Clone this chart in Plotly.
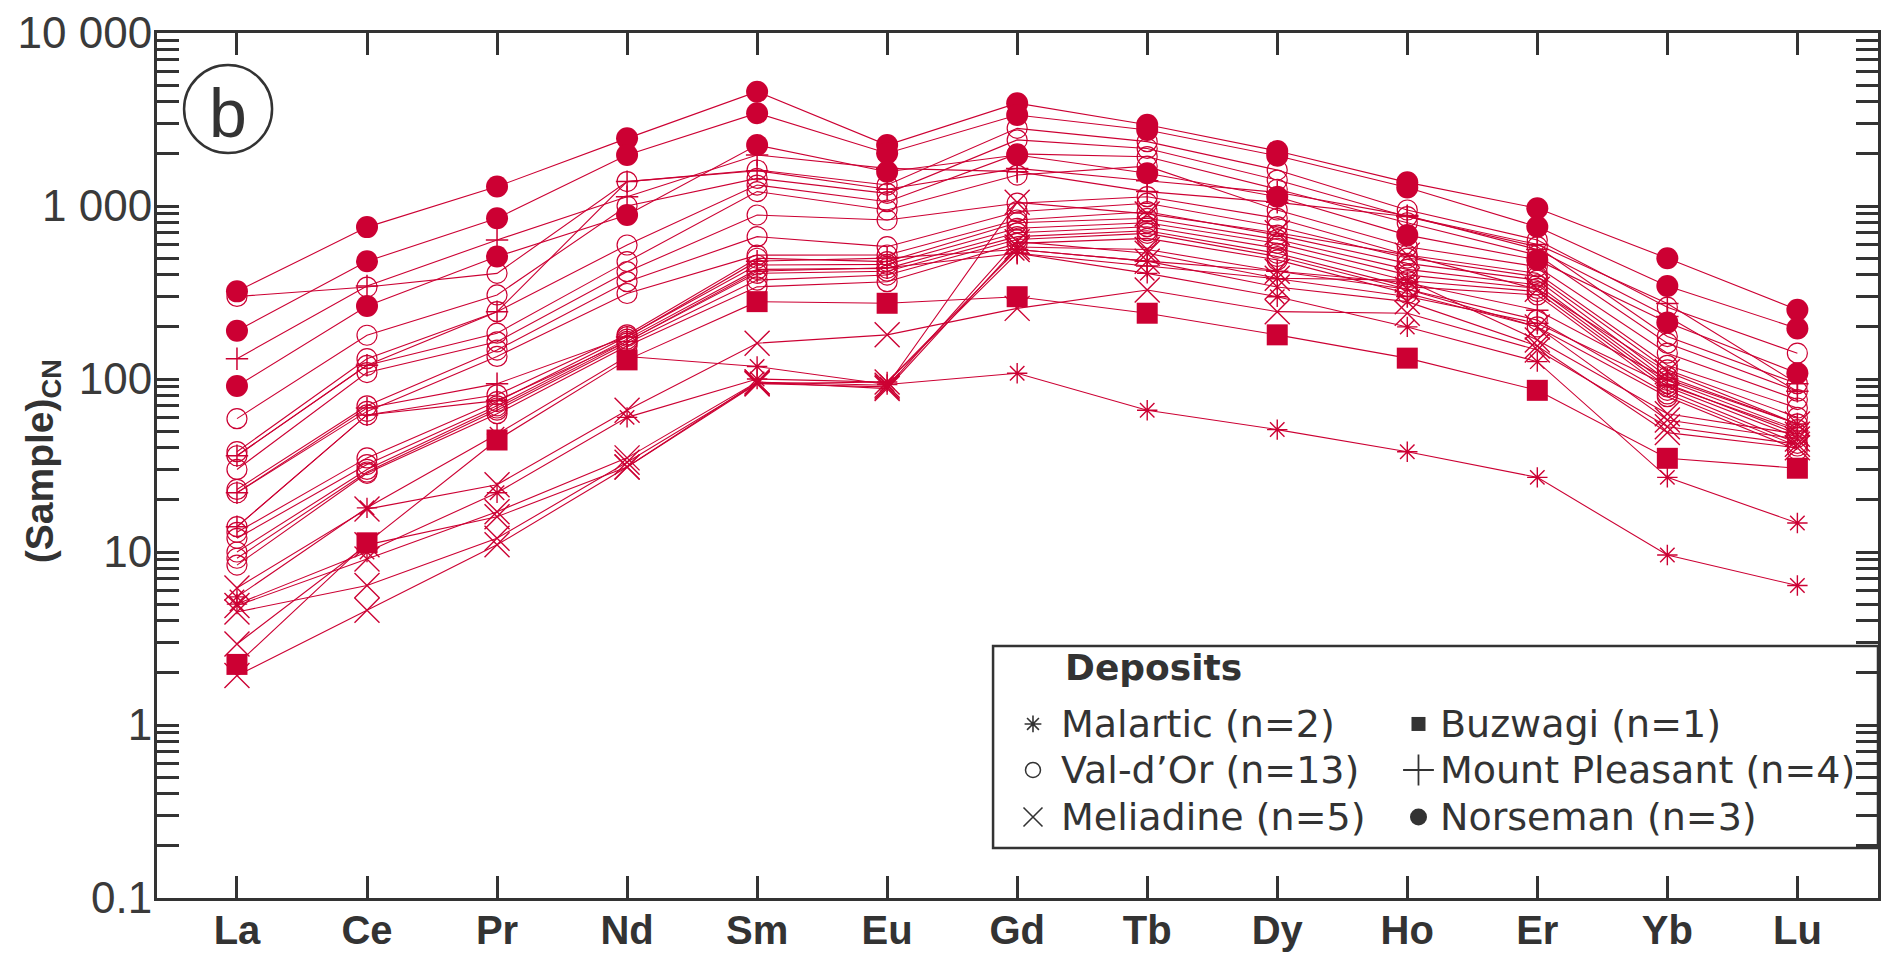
import plotly.graph_objects as go

elements = ["La", "Ce", "Pr", "Nd", "Sm", "Eu", "Gd", "Tb", "Dy", "Ho", "Er", "Yb", "Lu"]

malartic = [
    [5.5, 18, 48, 135, 118, 93, 108, 66, 51, 38, 27, 9.6, 6.4],
    [5.0, 10, 22, 60, 100, 96, 533, 408, 299, 200, 126, 27, 14.7],
]
valdor = [
    [300, 340, 408, 1384, 1615, 1322, 2810, 2355, 1615, 948, 636, 260, 141],
    [59, 179, 306, 1000, 1445, 1183, 2410, 2150, 1413, 867, 582, 176, 94],
    [38, 131, 245, 595, 1322, 1059, 2000, 1928, 1250, 800, 520, 161, 85],
    [36, 120, 184, 477, 1211, 948, 1510, 1700, 948, 582, 446, 141, 76],
    [30, 109, 164, 417, 887, 830, 1038, 1132, 849, 521, 408, 120, 68],
    [23, 70, 147, 365, 665, 582, 927, 1038, 759, 500, 390, 113, 60],
    [22, 65, 135, 312, 520, 521, 830, 927, 679, 466, 373, 103, 55],
    [14, 62, 81, 180, 499, 477, 800, 849, 640, 430, 350, 98, 51],
    [13, 35, 74, 176, 456, 460, 743, 800, 608, 400, 334, 94, 48],
    [12, 32, 70, 170, 430, 436, 700, 759, 570, 370, 320, 90, 46],
    [10, 30, 68, 165, 408, 420, 665, 720, 533, 342, 306, 86, 42.5],
    [9.2, 29, 66, 161, 373, 399, 640, 695, 510, 330, 219, 82, 41],
    [8.4, 28.5, 63, 155, 341, 365, 608, 650, 488, 312, 200, 79, 39],
]
meliadine = [
    [6.2, 17.7, 24.5, 66, 161, 180, 256, 327, 245, 240, 147, 53, 42],
    [4.9, 9.1, 17.1, 35, 96, 92, 1050, 900, 700, 520, 330, 110, 55],
    [4.5, 6.4, 12, 33, 94, 90, 622, 533, 382, 373, 168, 63, 48],
    [2.94, 11, 16, 31, 96, 88, 580, 560, 420, 330, 200, 58, 45],
    [1.93, 4.6, 11, 31, 94, 96, 560, 480, 340, 280, 155, 49, 40],
]
buzwagi = [
    [2.24, 11.3, 44.4, 129, 280, 274, 299, 240, 180, 132, 86, 34.8, 30.5],
]
mount_pleasant = [
    [131, 345, 636, 1132, 1970, 1650, 1580, 1211, 1050, 870, 600, 273, 94],
    [36, 120, 245, 1384, 1600, 1250, 1650, 1400, 1200, 880, 560, 230, 85],
    [22, 68, 94, 175, 480, 500, 560, 480, 420, 360, 250, 100, 55],
    [14, 62, 75, 165, 420, 440, 533, 450, 380, 300, 210, 92, 50],
]
norseman = [
    [321, 755, 1295, 2460, 4580, 2250, 3930, 2950, 2080, 1370, 970, 499, 251],
    [190, 479, 849, 1970, 3440, 2020, 3360, 2750, 1950, 1280, 759, 345, 196],
    [91, 264, 510, 887, 2250, 1578, 1970, 1545, 1132, 679, 488, 212, 108],
]

legend_labels = ["Malartic (n=2)", "Val-d\u2019Or (n=13)", "Meliadine (n=5)",
                 "Buzwagi (n=1)", "Mount Pleasant (n=4)", "Norseman (n=3)"]

y_tick_text = {0.1: "0.1", 1: "1", 10: "10", 100: "100", 1000: "1 000", 10000: "10 000"}

RED = "#CC0033"
INK = "#333333"

# symbol styles: (symbol, size, line width)
styles = {
    "malartic": ("asterisk-open", 17, 1.4),
    "valdor": ("circle-open", 20, 1.2),
    "meliadine": ("x-thin-open", 25, 1.4),
    "buzwagi": ("square", 21, 0),
    "mount": ("cross-thin-open", 16, 1.5),
    "norseman": ("circle", 22, 0),
}

groups = [
    ("valdor", valdor),
    ("meliadine", meliadine),
    ("mount", mount_pleasant),
    ("malartic", malartic),
    ("buzwagi", buzwagi),
    ("norseman", norseman),
]

fig = go.Figure()

for key, series in groups:
    sym, size, lw = styles[key]
    for vals in series:
        fig.add_trace(go.Scatter(
            x=elements, y=vals, mode="lines+markers",
            line=dict(color=RED, width=1.1),
            marker=dict(symbol=sym, size=size, color=RED,
                        line=dict(color=RED, width=lw)),
            showlegend=False, hoverinfo="skip",
        ))

# legend markers on an overlay axis (fractions of plot area)
leg_symbols = [("asterisk-open", 14, 1.6), ("circle-open", 15, 1.5), ("x-thin-open", 19, 1.6),
               ("square", 14, 0), ("cross-thin-open", 22, 1.8), ("circle", 17, 0)]
col_marker_x = [0.509, 0.733]
col_text_x = [0.5240, 0.7445]
row_y = [0.2012, 0.1480, 0.0936]
for i, (sym, size, lw) in enumerate(leg_symbols):
    c, r = divmod(i, 3)
    fig.add_trace(go.Scatter(
        x=[col_marker_x[c]], y=[row_y[r]], mode="markers",
        xaxis="x2", yaxis="y2",
        marker=dict(symbol=sym, size=size, color=INK, line=dict(color=INK, width=lw)),
        showlegend=False, hoverinfo="skip",
    ))

annotations = []
for i, lab in enumerate(legend_labels):
    c, r = divmod(i, 3)
    annotations.append(dict(
        text=lab, x=col_text_x[c], y=row_y[r], xref="paper", yref="paper",
        xanchor="left", yanchor="middle", showarrow=False,
        font=dict(family="DejaVu Sans", size=38, color=INK),
    ))
annotations.append(dict(
    text="<b>Deposits</b>", x=0.5265, y=0.267, xref="paper", yref="paper",
    xanchor="left", yanchor="middle", showarrow=False,
    font=dict(family="DejaVu Sans", size=36, color=INK),
))
annotations.append(dict(
    text="<b>(Sample)</b><sub><b>CN</b></sub>", x=-0.0668, y=0.505, xref="paper", yref="paper",
    textangle=-90, showarrow=False, xanchor="center", yanchor="middle",
    font=dict(family="Liberation Sans", size=39, color=INK),
))
annotations.append(dict(
    text="b", x=0.0413, y=0.912, xref="paper", yref="paper",
    xanchor="center", yanchor="middle", showarrow=False, yshift=-4,
    font=dict(family="Liberation Sans", size=68, color=INK),
))

shapes = [
    dict(type="circle", xref="paper", yref="paper", xsizemode="pixel", ysizemode="pixel",
         xanchor=0.0413, yanchor=0.912, x0=-44, x1=44, y0=-44, y1=44,
         line=dict(color=INK, width=2.5)),
    dict(type="rect", xref="paper", yref="paper", x0=0.4858, x1=1.0, y0=0.0578, y1=0.2913,
         line=dict(color=INK, width=2.5), fillcolor="white", layer="below"),
]

tickvals = []
ticktext = []
for dec in [0.1, 1, 10, 100, 1000]:
    for m in range(1, 10):
        v = round(dec * m, 6)
        tickvals.append(v)
        ticktext.append(y_tick_text.get(v, ""))
tickvals.append(10000)
ticktext.append(y_tick_text[10000])

fig.update_layout(
    width=1886, height=956,
    margin=dict(l=157, r=8, t=33, b=58),
    paper_bgcolor="white", plot_bgcolor="white",
    showlegend=False,
    annotations=annotations,
    shapes=shapes,
    xaxis=dict(
        type="category", categoryorder="array", categoryarray=elements,
        range=[-0.615, 12.62], showgrid=False, zeroline=False,
        showline=True, linecolor=INK, linewidth=3, mirror="allticks",
        ticks="inside", ticklen=22, tickwidth=2.5, tickcolor=INK,
        tickfont=dict(family="Liberation Sans", size=40, color=INK, weight="bold"),
        ticklabelstandoff=-5,
        automargin=False,
    ),
    yaxis=dict(
        type="log", range=[-1, 4], showgrid=False, zeroline=False,
        showline=True, linecolor=INK, linewidth=3, mirror="allticks",
        ticks="inside", ticklen=22, tickwidth=2.5, tickcolor=INK,
        tickmode="array", tickvals=tickvals, ticktext=ticktext,
        tickfont=dict(family="Liberation Sans", size=44, color="#3a3a3a"),
        ticklabelstandoff=-7,
        automargin=False,
    ),
    xaxis2=dict(overlaying="x", range=[0, 1], visible=False, fixedrange=True),
    yaxis2=dict(overlaying="y", range=[0, 1], visible=False, fixedrange=True),
)

fig.write_html(
    "out.html",
    config={"displayModeBar": False},
    post_script="document.body.style.margin='0';document.body.style.overflow='hidden';",
)
